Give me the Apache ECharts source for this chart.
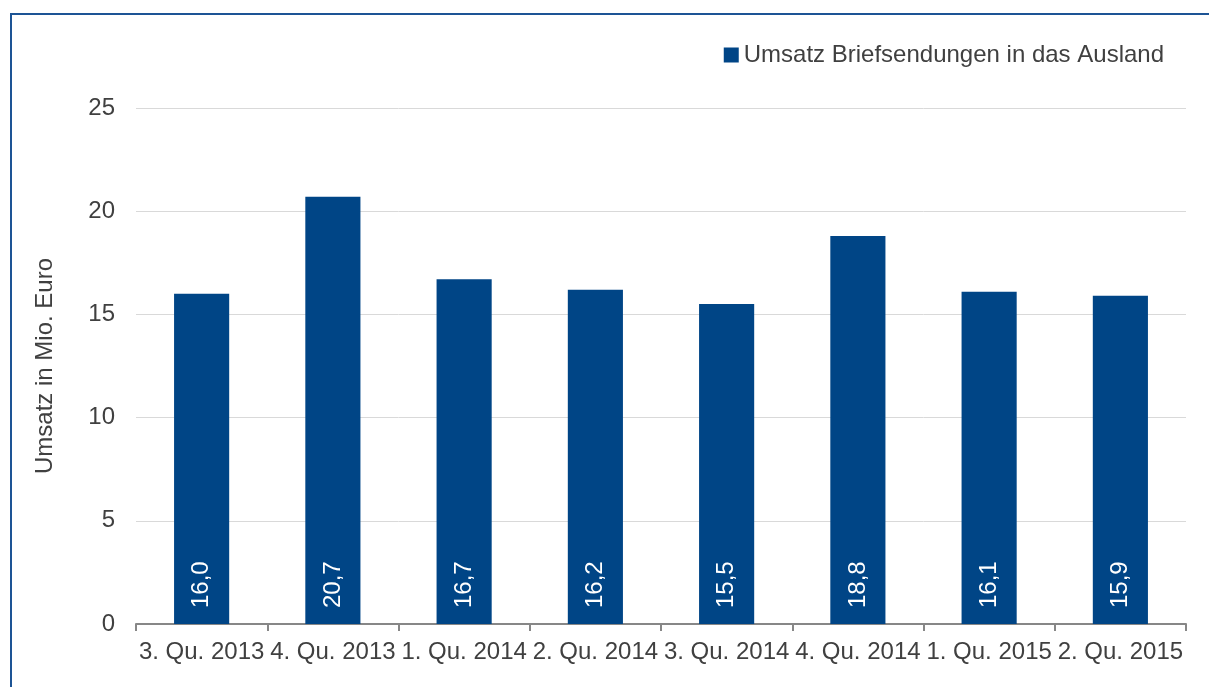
<!DOCTYPE html>
<html>
<head>
<meta charset="utf-8">
<script src="https://cdn.jsdelivr.net/npm/echarts@6/dist/echarts.min.js"></script>
<style>
  html, body { margin: 0; padding: 0; background: #fff; }
  #frame {
    position: absolute; left: 10px; top: 13px; right: 0; bottom: 0;
    border-left: 2px solid #1d5495; border-top: 2px solid #1d5495;
  }
  #chart { position: absolute; left: 0; top: 0; width: 1209px; height: 687px; }
</style>
</head>
<body>
<div id="frame"></div>
<div id="chart"></div>
<script>
// Umsatz Briefsendungen in das Ausland, Mio. Euro
const quartale = ['3. Qu. 2013', '4. Qu. 2013', '1. Qu. 2014', '2. Qu. 2014',
                  '3. Qu. 2014', '4. Qu. 2014', '1. Qu. 2015', '2. Qu. 2015']
const umsatz = [16.0, 20.7, 16.7, 16.2, 15.5, 18.8, 16.1, 15.9]

const textColor = '#404040'
const font = 'Liberation Sans, Arial, sans-serif'

const chart = echarts.init(document.getElementById('chart'))
chart.setOption({
  animation: false,
  textStyle: { fontFamily: font },
  grid: { left: 136, right: 23, top: 108, bottom: 63 },
  legend: {
    top: 38, right: 40,
    itemWidth: 15, itemHeight: 15,
    icon: 'rect',
    textStyle: { fontSize: 24, color: textColor, fontFamily: font },
    data: ['Umsatz Briefsendungen in das Ausland']
  },
  xAxis: {
    type: 'category',
    data: quartale,
    axisLine: { lineStyle: { color: '#878787', width: 2 } },
    axisTick: { show: true, length: 7, lineStyle: { color: '#878787', width: 2 } },
    axisLabel: { fontSize: 24, color: textColor, margin: 16, interval: 0, fontFamily: font }
  },
  yAxis: {
    type: 'value',
    min: 0, max: 25, interval: 5,
    name: 'Umsatz in Mio. Euro',
    nameLocation: 'middle',
    nameGap: 79,
    nameTextStyle: { fontSize: 24, color: textColor, fontFamily: font },
    axisLine: { show: false },
    axisTick: { show: false },
    axisLabel: { fontSize: 24, color: textColor, margin: 21, fontFamily: font },
    splitLine: { lineStyle: { color: '#d9d9d9', width: 1 } }
  },
  series: [{
    name: 'Umsatz Briefsendungen in das Ausland',
    type: 'bar',
    data: umsatz,
    barWidth: '42%',
    itemStyle: { color: '#004586' },
    label: {
      show: true,
      position: 'insideBottom',
      distance: 16,
      rotate: 90,
      align: 'left',
      verticalAlign: 'middle',
      color: '#fff',
      fontSize: 24,
      fontFamily: font,
      formatter: p => p.value.toFixed(1).replace('.', ',')
    }
  }]
})
</script>
</body>
</html>
